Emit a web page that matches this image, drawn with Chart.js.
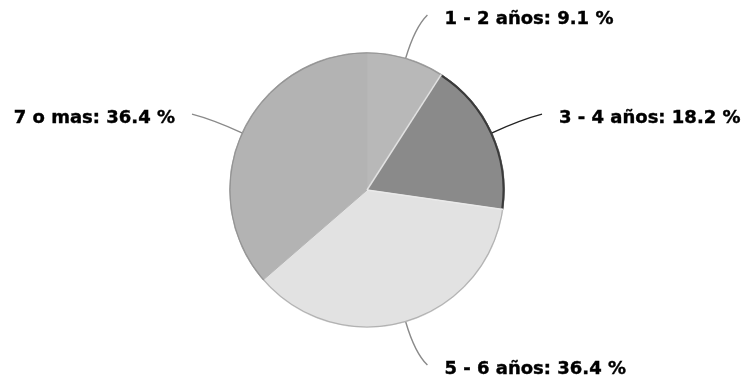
<!DOCTYPE html>
<html><head><meta charset="utf-8">
<script src="https://cdn.jsdelivr.net/npm/chart.js@4/dist/chart.umd.min.js"></script>
<style>html,body{margin:0;padding:0;background:#fff}#wrap{width:746px;height:377px}</style>
</head><body><div id="wrap"><canvas id="c"></canvas></div>
<script>
const categories = ['1 - 2 años', '3 - 4 años', '5 - 6 años', '7 o mas'];
const values = [1, 2, 4, 4];
const percentLabels = ['9.1 %', '18.2 %', '36.4 %', '36.4 %'];
const colors = ['#b8b8b8', '#8a8a8a', '#e2e2e2', '#b3b3b3'];

const labelPlugin = {
  id: 'outLabels',
  afterDatasetsDraw(chart) {
    const ctx = chart.ctx;
    const meta = chart.getDatasetMeta(0);
    ctx.save();
    // soft outer rim
    const a0 = meta.data[0].getProps(['x','y','outerRadius'], true);
    ctx.beginPath();
    ctx.arc(a0.x, a0.y, a0.outerRadius - 0.5, 0, Math.PI * 2);
    ctx.strokeStyle = 'rgba(90,90,90,0.35)';
    ctx.lineWidth = 1.2;
    ctx.stroke();
    // light separators on the dark slice
    const d = meta.data[1].getProps(['x','y','startAngle','endAngle','outerRadius'], true);
    [d.startAngle, d.endAngle].forEach(a => {
      ctx.beginPath();
      ctx.moveTo(d.x, d.y);
      ctx.lineTo(d.x + Math.cos(a) * d.outerRadius, d.y + Math.sin(a) * d.outerRadius);
      ctx.strokeStyle = 'rgba(235,235,235,0.9)';
      ctx.lineWidth = 1.5;
      ctx.stroke();
    });
    ctx.beginPath();
    ctx.arc(d.x, d.y, d.outerRadius - 1, d.startAngle + 0.01, d.endAngle - 0.01);
    ctx.strokeStyle = '#3a3a3a';
    ctx.lineWidth = 2;
    ctx.stroke();

    meta.data.forEach((arc, i) => {
      const p = arc.getProps(['x','y','startAngle','endAngle','outerRadius'], true);
      const mid = (p.startAngle + p.endAngle) / 2;
      const dx = Math.cos(mid), dy = Math.sin(mid);
      const r = p.outerRadius;
      const right = dx >= 0;
      const sx = p.x + dx * r, sy = p.y + dy * r;
      const cx = p.x + dx * (r + 32), cy = p.y + dy * (r + 32);
      const ex = p.x + dx * (r + 45) + (right ? 9 : -9), ey = p.y + dy * (r + 45);
      ctx.beginPath();
      ctx.moveTo(sx, sy);
      ctx.quadraticCurveTo(cx, cy, ex, ey);
      ctx.strokeStyle = i === 1 ? '#222' : '#8a8a8a';
      ctx.lineWidth = 1.4;
      ctx.stroke();
      ctx.font = 'bold 18px "DejaVu Sans"';
      ctx.fillStyle = '#000';
      ctx.textBaseline = 'middle';
      ctx.textAlign = right ? 'left' : 'right';
      const txt = categories[i] + ': ' + percentLabels[i];
      const tx = ex + (right ? 17 : -17), ty = ey + 4;
      ctx.fillText(txt, tx, ty);
      ctx.lineWidth = 0.4;
      ctx.strokeStyle = '#000';
      ctx.strokeText(txt, tx, ty);
    });
    ctx.restore();
  }
};

new Chart(document.getElementById('c'), {
  type: 'pie',
  data: {
    labels: categories,
    datasets: [{
      data: values,
      backgroundColor: colors,
      borderColor: colors,
      borderWidth: 1
    }]
  },
  options: {
    responsive: true,
    maintainAspectRatio: false,
    animation: false,
    layout: { padding: { top: 52, bottom: 49, left: 200, right: 212 } },
    plugins: { legend: { display: false }, tooltip: { enabled: false } }
  },
  plugins: [labelPlugin]
});
</script></body></html>
